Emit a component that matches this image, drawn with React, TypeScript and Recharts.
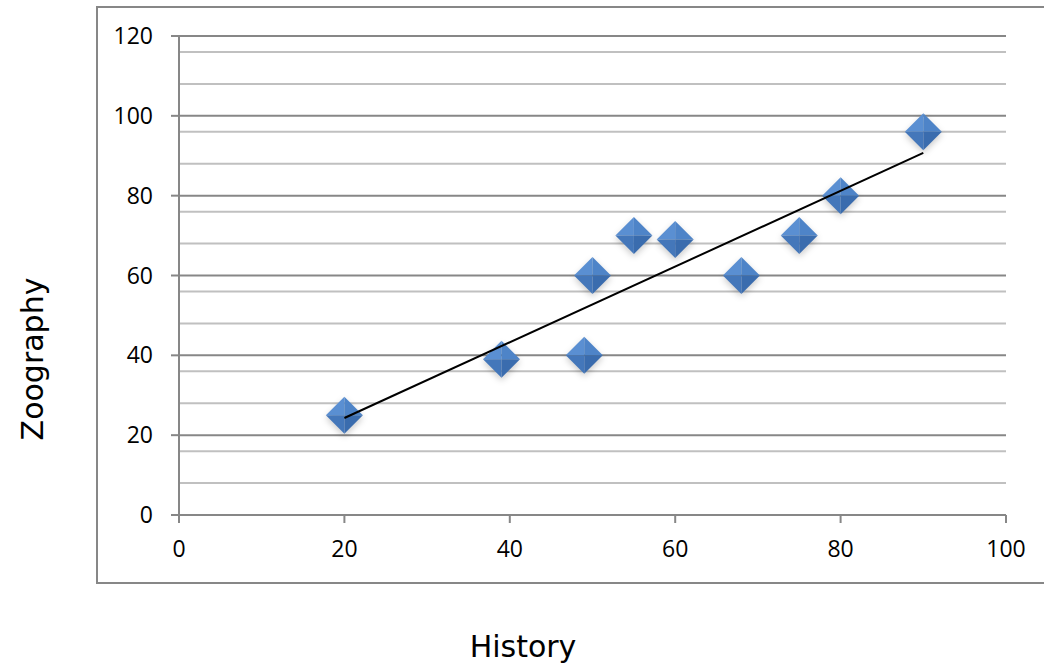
import React from 'react';
import { ScatterChart, Scatter, XAxis, YAxis, CartesianGrid } from 'recharts';

// history vs zoography scores
const history = [20, 39, 49, 50, 55, 60, 68, 75, 80, 90];
const zoography = [25, 39, 40, 60, 70, 69, 60, 70, 80, 96];

// linear trendline end points
const trendX = [20, 90];
const trendY = [24.3, 90.7];

const xTicks = [0, 20, 40, 60, 80, 100];
const yTicks = [0, 20, 40, 60, 80, 100, 120];
const minorY = [4, 8, 12, 16, 24, 28, 32, 36, 44, 48, 52, 56, 64, 68, 72, 76, 84, 88, 92, 96, 104, 108, 112, 116];

const points = history.map((x, i) => ({ x, y: zoography[i] }));
const trend = trendX.map((x, i) => ({ x, y: trendY[i] }));

const axisGray = '#878787';
const tickFont = { fontFamily: '"Open Sans", sans-serif', fontSize: 23, fill: '#000' };

// faceted diamond marker, like the old office "pyramid" style
const Diamond = (props: any) => {
  const { cx, cy } = props;
  const r = 18.5;
  const t = `${cx},${cy - r}`;
  const rt = `${cx + r},${cy}`;
  const b = `${cx},${cy + r}`;
  const l = `${cx - r},${cy}`;
  const c = `${cx},${cy}`;
  return (
    <g style={{ filter: 'drop-shadow(0px 3px 3px rgba(0,0,0,0.2))' }}>
      <polygon points={`${l} ${t} ${c}`} fill="#5a8fd2" />
      <polygon points={`${t} ${rt} ${c}`} fill="#4e84c8" />
      <polygon points={`${rt} ${b} ${c}`} fill="#3a6cae" />
      <polygon points={`${b} ${l} ${c}`} fill="#4477ba" />
    </g>
  );
};

export default function App() {
  return (
    <div style={{ position: 'absolute', left: 0, top: 0, width: 1044, height: 666, background: '#fff', overflow: 'hidden' }}>
      {/* outer chart frame, right edge runs off the image */}
      <div
        style={{
          position: 'absolute',
          left: 96,
          top: 6,
          width: 1000,
          height: 574,
          border: `2px solid ${axisGray}`,
        }}
      />
      <ScatterChart width={1044} height={666} margin={{ top: 36, right: 38, bottom: 0, left: 0 }} style={{ position: 'absolute', left: 0, top: 0 }}>
        <CartesianGrid horizontalValues={minorY} vertical={false} stroke="#c0c0c0" strokeWidth={2} />
        <CartesianGrid horizontalValues={yTicks} vertical={false} stroke={axisGray} strokeWidth={2} />
        <XAxis
          type="number"
          dataKey="x"
          domain={[0, 100]}
          ticks={xTicks}
          height={151}
          tickSize={8}
          tickMargin={18}
          stroke={axisGray}
          strokeWidth={2}
          tick={tickFont}
          label={{
            content: () => (
              <text x={523} y={657} textAnchor="middle" fontFamily='"DejaVu Sans", sans-serif' fontSize={30} fill="#000">
                History
              </text>
            ),
          }}
        />
        <YAxis
          type="number"
          dataKey="y"
          domain={[0, 120]}
          ticks={yTicks}
          width={179}
          tickSize={8}
          tickMargin={18}
          stroke={axisGray}
          strokeWidth={2}
          tick={tickFont}
          label={{
            content: () => (
              <text
                x={43}
                y={359}
                textAnchor="middle"
                transform="rotate(-90, 43, 359)"
                fontFamily='"DejaVu Sans", sans-serif'
                fontSize={30}
                fill="#000"
              >
                Zoography
              </text>
            ),
          }}
        />
        <Scatter data={points} shape={Diamond} isAnimationActive={false} />
        <Scatter
          data={trend}
          line={{ stroke: '#000', strokeWidth: 2 }}
          shape={() => <g />}
          isAnimationActive={false}
        />
      </ScatterChart>
    </div>
  );
}
